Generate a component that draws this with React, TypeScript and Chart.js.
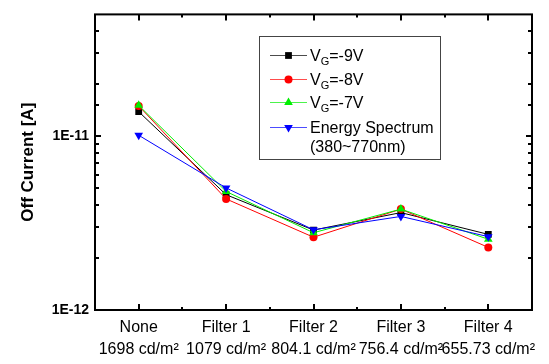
import React, { useEffect, useRef } from 'react';
import { Chart, registerables } from 'chart.js';

Chart.register(...registerables);

// ---------- data ----------
const categories: string[][] = [
  ['None', '1698 cd/m²'],
  ['Filter 1', '1079 cd/m²'],
  ['Filter 2', '804.1 cd/m²'],
  ['Filter 3', '756.4 cd/m²'],
  ['Filter 4', '655.73 cd/m²'],
];
const vg9: number[] = [1.38e-11, 4.6e-12, 2.88e-12, 3.63e-12, 2.72e-12];
const vg8: number[] = [1.49e-11, 4.35e-12, 2.62e-12, 3.8e-12, 2.29e-12];
const vg7: number[] = [1.5e-11, 4.8e-12, 2.78e-12, 3.8e-12, 2.55e-12];
const energy: number[] = [1.01e-11, 5.03e-12, 2.89e-12, 3.45e-12, 2.64e-12];
const seriesLabels: string[] = ['V_G=-9V', 'V_G=-8V', 'V_G=-7V', 'Energy Spectrum\n(380~770nm)'];
const seriesColors: string[] = ['#000000', '#ff0000', '#00ee00', '#0000ff'];
const yMin = 1e-12;
const yMax = 5e-11;
const yTitle = 'Off Current [A]';

const FONT = '"Liberation Sans", Arial, sans-serif';

type Marker = { style: string; r: number; rot: number };
const markers: Marker[] = [
  { style: 'rect', r: 4.8, rot: 0 },
  { style: 'circle', r: 4, rot: 0 },
  { style: 'triangle', r: 5, rot: 0 },
  { style: 'triangle', r: 5, rot: 180 },
];

function drawMarker(ctx: CanvasRenderingContext2D, m: Marker, x: number, y: number, color: string) {
  ctx.save();
  ctx.fillStyle = color;
  ctx.beginPath();
  if (m.style === 'rect') {
    const s = m.r * Math.SQRT1_2;
    ctx.rect(x - s, y - s, 2 * s, 2 * s);
  } else if (m.style === 'circle') {
    ctx.arc(x, y, m.r, 0, Math.PI * 2);
  } else {
    let rad = (m.rot * Math.PI) / 180;
    for (let k = 0; k < 3; k++) {
      const px = x + Math.sin(rad) * m.r;
      const py = y - Math.cos(rad) * m.r;
      if (k === 0) ctx.moveTo(px, py);
      else ctx.lineTo(px, py);
      rad += (2 * Math.PI) / 3;
    }
    ctx.closePath();
  }
  ctx.fill();
  ctx.restore();
}

const framePlugin = {
  id: 'frameTicks',
  afterDatasetsDraw(chart: any) {
    const ctx: CanvasRenderingContext2D = chart.ctx;
    const { left, right, top, bottom } = chart.chartArea;
    const xs = chart.scales.x;
    const ys = chart.scales.y;
    ctx.save();
    ctx.strokeStyle = '#000';
    ctx.lineWidth = 2;
    ctx.strokeRect(left, top, right - left, bottom - top);
    ctx.beginPath();
    for (let i = 0; i < categories.length; i++) {
      const px = Math.round(xs.getPixelForValue(i));
      ctx.moveTo(px, bottom);
      ctx.lineTo(px, bottom - 6);
      ctx.moveTo(px, top);
      ctx.lineTo(px, top + 6);
      if (i > 0) {
        const mx = Math.round(xs.getPixelForValue(i - 0.5));
        ctx.moveTo(mx, bottom);
        ctx.lineTo(mx, bottom - 3);
        ctx.moveTo(mx, top);
        ctx.lineTo(mx, top + 3);
      }
    }
    for (const t of ys.ticks) {
      const v = t.value;
      const py = Math.round(ys.getPixelForValue(v));
      if (py <= top + 1 || py >= bottom - 1) continue;
      const lg = Math.log10(v);
      const major = Math.abs(lg - Math.round(lg)) < 1e-6;
      const len = major ? 6 : 4;
      ctx.moveTo(left, py);
      ctx.lineTo(left + len, py);
      ctx.moveTo(right, py);
      ctx.lineTo(right - len, py);
    }
    ctx.stroke();
    ctx.restore();
  },
  afterDraw(chart: any) {
    const ctx: CanvasRenderingContext2D = chart.ctx;
    ctx.save();
    // legend box
    const bx = 259, by = 36, bw = 181, bh = 123;
    ctx.fillStyle = '#fff';
    ctx.fillRect(bx, by, bw, bh);
    ctx.strokeStyle = '#444';
    ctx.lineWidth = 1;
    ctx.strokeRect(bx + 0.5, by + 0.5, bw, bh);
    const rows = [55, 79, 102, 127];
    seriesLabels.forEach((lab, i) => {
      const y = rows[i];
      const c = seriesColors[i];
      ctx.strokeStyle = c;
      ctx.globalAlpha = 0.7;
      ctx.lineWidth = 1;
      ctx.beginPath();
      ctx.moveTo(270, y + 0.5);
      ctx.lineTo(307, y + 0.5);
      ctx.stroke();
      ctx.globalAlpha = 1;
      drawMarker(ctx, markers[i], 288.5, y + 0.5, c);
      ctx.fillStyle = '#000';
      ctx.textBaseline = 'alphabetic';
      const lines = lab.split('\n');
      lines.forEach((ln, li) => {
        const baseline = y + 6 + li * 19;
        let x = 310;
        const parts = ln.split(/(_[A-Z])/);
        for (const p of parts) {
          if (!p) continue;
          if (p.startsWith('_')) {
            ctx.font = `11px ${FONT}`;
            ctx.fillText(p.slice(1), x, baseline + 4);
            x += ctx.measureText(p.slice(1)).width;
          } else {
            ctx.font = `16px ${FONT}`;
            ctx.fillText(p, x, baseline);
            x += ctx.measureText(p).width;
          }
        }
      });
    });
    ctx.restore();
  },
};

export default function App() {
  const ref = useRef<HTMLCanvasElement | null>(null);
  useEffect(() => {
    if (!ref.current) return;
    Chart.defaults.font.family = FONT;
    const series = [vg9, vg8, vg7, energy];
    const chart = new Chart(ref.current, {
      type: 'line',
      data: {
        labels: categories,
        datasets: series.map((d, i) => ({
          label: seriesLabels[i],
          data: d,
          borderColor: seriesColors[i],
          backgroundColor: seriesColors[i],
          borderWidth: 1,
          pointStyle: markers[i].style as any,
          pointRadius: markers[i].r,
          pointRotation: markers[i].rot,
          pointBorderWidth: 0,
          pointBackgroundColor: seriesColors[i],
          tension: 0,
          order: 3 - i,
        })),
      },
      options: {
        responsive: false,
        animation: false,
        devicePixelRatio: 1,
        layout: { padding: { top: 5, right: 17, left: 0, bottom: 0 } },
        plugins: { legend: { display: false }, tooltip: { enabled: false } },
        scales: {
          x: {
            type: 'category',
            offset: true,
            grid: { display: false, drawTicks: false },
            border: { display: false },
            ticks: {
              color: '#000',
              font: { size: 16, lineHeight: 1.4 },
              padding: 6,
              maxRotation: 0,
              autoSkip: false,
            },
            afterFit: (s: any) => {
              s.height = 54;
            },
          },
          y: {
            type: 'logarithmic',
            min: yMin,
            max: yMax,
            grid: { display: false, drawTicks: false },
            border: { display: false },
            ticks: {
              color: '#000',
              font: { size: 14, weight: 'bold' },
              padding: 6,
              autoSkip: false,
              callback: (v: any) => {
                const lg = Math.log10(Number(v));
                if (Math.abs(lg - Math.round(lg)) < 1e-6) return '1E' + Math.round(lg);
                return '';
              },
            },
            title: {
              display: true,
              text: yTitle,
              color: '#000',
              font: { size: 17, weight: 'bold' },
              padding: { top: 18, bottom: 0 },
            },
            afterFit: (s: any) => {
              s.width = 95;
            },
          },
        },
      },
      plugins: [framePlugin],
    });
    return () => chart.destroy();
  }, []);
  return (
    <div style={{ position: 'fixed', left: 0, top: 0, width: 549, height: 364, background: '#fff' }}>
      <canvas ref={ref} width={549} height={364} style={{ display: 'block' }} />
    </div>
  );
}
